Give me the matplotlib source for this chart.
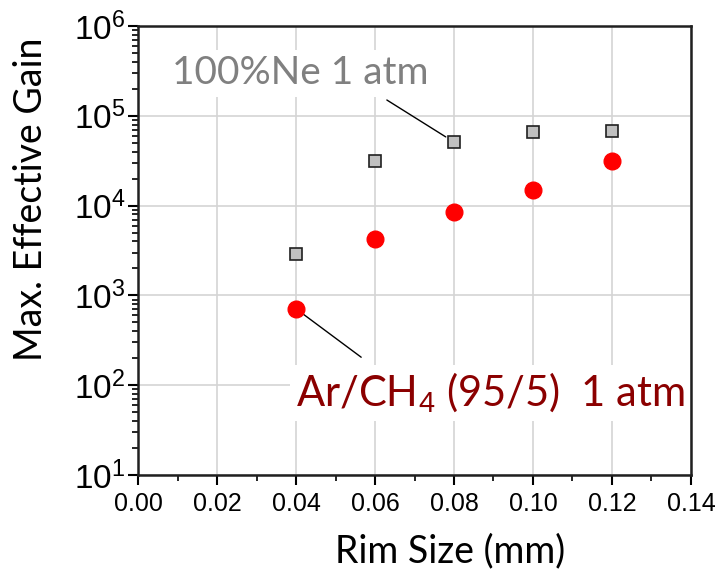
import matplotlib
matplotlib.use('Agg')
import matplotlib.pyplot as plt
from matplotlib.ticker import MultipleLocator, LogLocator, NullFormatter

# data
rim_size = [0.04, 0.06, 0.08, 0.10, 0.12]
gain_ne = [2900, 31500, 51000, 66000, 67000]
gain_arch4 = [710, 4300, 8400, 15000, 31000]

label_ne = '100%Ne 1 atm'
label_ar = 'Ar/CH$_4$ (95/5)  1 atm'

txt_font = 'Lato'
plt.rcParams['mathtext.fontset'] = 'custom'
plt.rcParams['mathtext.rm'] = 'Liberation Sans'
plt.rcParams['mathtext.it'] = 'Liberation Sans:italic'

fig = plt.figure(figsize=(7.2, 5.73), dpi=100)
ax = fig.add_axes([0.1917, 0.171, 0.768, 0.7836])

ax.plot(rim_size, gain_ne, 's', color='#c0c0c0', markeredgecolor='#202020',
        markeredgewidth=1.2, markersize=8, zorder=4)
ax.plot(rim_size, gain_arch4, 'o', color='#ff0000', markeredgecolor='#ff0000',
        markersize=12, zorder=4)

ax.set_yscale('log')
ax.set_xlim(0, 0.14)
ax.set_ylim(10, 1e6)

ax.xaxis.set_major_locator(MultipleLocator(0.02))
ax.xaxis.set_minor_locator(MultipleLocator(0.01))
ax.yaxis.set_major_locator(LogLocator(base=10, numticks=10))
ax.yaxis.set_minor_locator(LogLocator(base=10, subs=range(2, 10), numticks=10))
ax.yaxis.set_minor_formatter(NullFormatter())
ax.set_xticklabels(['%.2f' % v for v in ax.get_xticks()])

ax.grid(True, which='major', color='#d4d4d4', linewidth=1.2, zorder=0)
ax.set_axisbelow(True)

ax.tick_params(axis='both', which='major', direction='out', length=7, width=1.5)
ax.tick_params(axis='both', which='minor', direction='out', length=4, width=1.2)
ax.tick_params(axis='x', labelsize=18, pad=5)
ax.tick_params(axis='y', labelsize=24, pad=2)
ax.tick_params(top=False, right=False)
for lbl in ax.get_xticklabels() + ax.get_yticklabels():
    lbl.set_family('Liberation Sans')

for s in ax.spines.values():
    s.set_linewidth(1.8)
    s.set_color('#202020')

ax.set_xlabel('Rim Size (mm)', fontsize=27, family=txt_font, va='center')
ax.set_ylabel('Max. Effective Gain', fontsize=27, family=txt_font, va='center')
ax.xaxis.set_label_coords(0.564, -0.17)
ax.yaxis.set_label_coords(-0.194, 0.615)

# callout text with white boxes
ax.text(0.293, 0.895, label_ne, transform=ax.transAxes, fontsize=28,
        color='#808080', family=txt_font, ha='center', va='center',
        bbox=dict(facecolor='white', edgecolor='none', pad=4), zorder=5)
ax.text(0.285, 0.183, label_ar, transform=ax.transAxes, fontsize=30,
        color='#8b0000', family=txt_font, ha='left', va='center',
        bbox=dict(facecolor='white', edgecolor='none', pad=4), zorder=5,
        clip_on=False)

ax.annotate('', xy=(rim_size[2], gain_ne[2]), xytext=(0.063, 1.5e5),
            arrowprops=dict(arrowstyle='-', color='black', lw=1, shrinkA=0, shrinkB=7))
ax.annotate('', xy=(rim_size[0], gain_arch4[0]), xytext=(0.0565, 205),
            arrowprops=dict(arrowstyle='-', color='black', lw=1, shrinkA=0, shrinkB=0))

fig.savefig('out.png', dpi=100)
